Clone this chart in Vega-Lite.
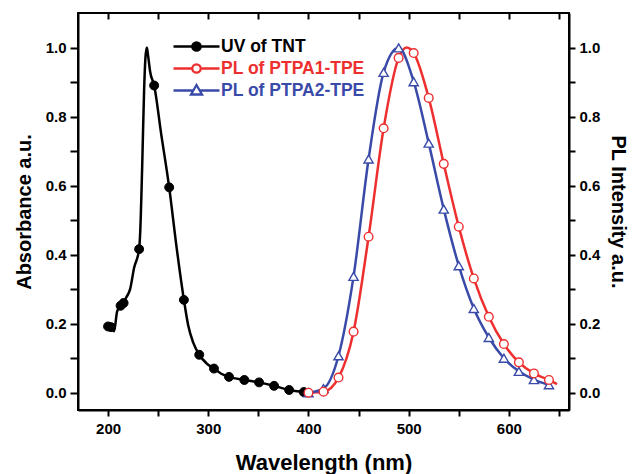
{
  "$schema": "https://vega.github.io/schema/vega-lite/v6.json",
  "autosize": "none",
  "width": 491,
  "height": 397,
  "padding": {"left": 78, "top": 13, "right": 66, "bottom": 64},
  "background": "white",
  "config": {
    "view": {"stroke": "black", "strokeWidth": 2},
    "axis": {
      "grid": false,
      "domainColor": "black",
      "domainWidth": 2,
      "tickColor": "black",
      "tickWidth": 2,
      "labelFont": "Liberation Sans",
      "labelFontWeight": "bold",
      "labelFontSize": 15,
      "labelColor": "black",
      "titleFont": "Liberation Sans",
      "titleFontWeight": "bold",
      "titleFontSize": 20,
      "titleColor": "black"
    }
  },
  "datasets": {
    "curves": [
      {"series": "UV of TNT", "wl": 200, "y": 0.192},
      {"series": "UV of TNT", "wl": 203, "y": 0.19},
      {"series": "UV of TNT", "wl": 206, "y": 0.178},
      {"series": "UV of TNT", "wl": 209, "y": 0.235},
      {"series": "UV of TNT", "wl": 212.5, "y": 0.252},
      {"series": "UV of TNT", "wl": 215.5, "y": 0.26},
      {"series": "UV of TNT", "wl": 218, "y": 0.275},
      {"series": "UV of TNT", "wl": 222, "y": 0.3},
      {"series": "UV of TNT", "wl": 226, "y": 0.362},
      {"series": "UV of TNT", "wl": 231, "y": 0.416},
      {"series": "UV of TNT", "wl": 232, "y": 0.46},
      {"series": "UV of TNT", "wl": 234, "y": 0.65},
      {"series": "UV of TNT", "wl": 236, "y": 0.88},
      {"series": "UV of TNT", "wl": 237.3, "y": 0.97},
      {"series": "UV of TNT", "wl": 238.7, "y": 1.0},
      {"series": "UV of TNT", "wl": 240, "y": 0.975},
      {"series": "UV of TNT", "wl": 242, "y": 0.93},
      {"series": "UV of TNT", "wl": 246, "y": 0.89},
      {"series": "UV of TNT", "wl": 253, "y": 0.75},
      {"series": "UV of TNT", "wl": 261, "y": 0.595},
      {"series": "UV of TNT", "wl": 268, "y": 0.43},
      {"series": "UV of TNT", "wl": 275.7, "y": 0.269},
      {"series": "UV of TNT", "wl": 280, "y": 0.195},
      {"series": "UV of TNT", "wl": 285, "y": 0.145},
      {"series": "UV of TNT", "wl": 291, "y": 0.11},
      {"series": "UV of TNT", "wl": 298, "y": 0.086},
      {"series": "UV of TNT", "wl": 305.7, "y": 0.07},
      {"series": "UV of TNT", "wl": 313, "y": 0.055},
      {"series": "UV of TNT", "wl": 320.7, "y": 0.046},
      {"series": "UV of TNT", "wl": 336, "y": 0.037},
      {"series": "UV of TNT", "wl": 350.7, "y": 0.03},
      {"series": "UV of TNT", "wl": 365.7, "y": 0.02},
      {"series": "UV of TNT", "wl": 380.7, "y": 0.008},
      {"series": "UV of TNT", "wl": 395.3, "y": 0.002},
      {"series": "PL of PTPA1-TPE", "wl": 400, "y": 0.0},
      {"series": "PL of PTPA1-TPE", "wl": 415, "y": 0.003},
      {"series": "PL of PTPA1-TPE", "wl": 430, "y": 0.044},
      {"series": "PL of PTPA1-TPE", "wl": 445, "y": 0.177},
      {"series": "PL of PTPA1-TPE", "wl": 460, "y": 0.452},
      {"series": "PL of PTPA1-TPE", "wl": 475, "y": 0.766},
      {"series": "PL of PTPA1-TPE", "wl": 490, "y": 0.97},
      {"series": "PL of PTPA1-TPE", "wl": 498, "y": 1.0},
      {"series": "PL of PTPA1-TPE", "wl": 505, "y": 0.984},
      {"series": "PL of PTPA1-TPE", "wl": 520, "y": 0.854},
      {"series": "PL of PTPA1-TPE", "wl": 535, "y": 0.663},
      {"series": "PL of PTPA1-TPE", "wl": 550, "y": 0.481},
      {"series": "PL of PTPA1-TPE", "wl": 565, "y": 0.331},
      {"series": "PL of PTPA1-TPE", "wl": 580, "y": 0.22},
      {"series": "PL of PTPA1-TPE", "wl": 595, "y": 0.141},
      {"series": "PL of PTPA1-TPE", "wl": 610, "y": 0.088},
      {"series": "PL of PTPA1-TPE", "wl": 625, "y": 0.056},
      {"series": "PL of PTPA1-TPE", "wl": 640, "y": 0.037},
      {"series": "PL of PTPA1-TPE", "wl": 648, "y": 0.025},
      {"series": "PL of PTPA2-TPE", "wl": 400, "y": 0.0},
      {"series": "PL of PTPA2-TPE", "wl": 415, "y": 0.012},
      {"series": "PL of PTPA2-TPE", "wl": 430, "y": 0.107},
      {"series": "PL of PTPA2-TPE", "wl": 445, "y": 0.337},
      {"series": "PL of PTPA2-TPE", "wl": 460, "y": 0.677},
      {"series": "PL of PTPA2-TPE", "wl": 475, "y": 0.928},
      {"series": "PL of PTPA2-TPE", "wl": 490, "y": 0.999},
      {"series": "PL of PTPA2-TPE", "wl": 505, "y": 0.901},
      {"series": "PL of PTPA2-TPE", "wl": 520, "y": 0.723},
      {"series": "PL of PTPA2-TPE", "wl": 535, "y": 0.532},
      {"series": "PL of PTPA2-TPE", "wl": 550, "y": 0.368},
      {"series": "PL of PTPA2-TPE", "wl": 565, "y": 0.244},
      {"series": "PL of PTPA2-TPE", "wl": 580, "y": 0.16},
      {"series": "PL of PTPA2-TPE", "wl": 595, "y": 0.1},
      {"series": "PL of PTPA2-TPE", "wl": 610, "y": 0.062},
      {"series": "PL of PTPA2-TPE", "wl": 625, "y": 0.038},
      {"series": "PL of PTPA2-TPE", "wl": 640, "y": 0.023}
    ],
    "markers": [
      {"series": "UV of TNT", "wl": 200, "y": 0.192},
      {"series": "UV of TNT", "wl": 203, "y": 0.19},
      {"series": "UV of TNT", "wl": 212.5, "y": 0.252},
      {"series": "UV of TNT", "wl": 215.5, "y": 0.26},
      {"series": "UV of TNT", "wl": 231, "y": 0.416},
      {"series": "UV of TNT", "wl": 246, "y": 0.89},
      {"series": "UV of TNT", "wl": 261, "y": 0.595},
      {"series": "UV of TNT", "wl": 275.7, "y": 0.269},
      {"series": "UV of TNT", "wl": 291, "y": 0.11},
      {"series": "UV of TNT", "wl": 305.7, "y": 0.07},
      {"series": "UV of TNT", "wl": 320.7, "y": 0.046},
      {"series": "UV of TNT", "wl": 336, "y": 0.037},
      {"series": "UV of TNT", "wl": 350.7, "y": 0.03},
      {"series": "UV of TNT", "wl": 365.7, "y": 0.02},
      {"series": "UV of TNT", "wl": 380.7, "y": 0.008},
      {"series": "UV of TNT", "wl": 395.3, "y": 0.002},
      {"series": "PL of PTPA2-TPE", "wl": 400, "y": 0.0},
      {"series": "PL of PTPA2-TPE", "wl": 415, "y": 0.012},
      {"series": "PL of PTPA2-TPE", "wl": 430, "y": 0.107},
      {"series": "PL of PTPA2-TPE", "wl": 445, "y": 0.337},
      {"series": "PL of PTPA2-TPE", "wl": 460, "y": 0.677},
      {"series": "PL of PTPA2-TPE", "wl": 475, "y": 0.928},
      {"series": "PL of PTPA2-TPE", "wl": 490, "y": 0.999},
      {"series": "PL of PTPA2-TPE", "wl": 505, "y": 0.901},
      {"series": "PL of PTPA2-TPE", "wl": 520, "y": 0.723},
      {"series": "PL of PTPA2-TPE", "wl": 535, "y": 0.532},
      {"series": "PL of PTPA2-TPE", "wl": 550, "y": 0.368},
      {"series": "PL of PTPA2-TPE", "wl": 565, "y": 0.244},
      {"series": "PL of PTPA2-TPE", "wl": 580, "y": 0.16},
      {"series": "PL of PTPA2-TPE", "wl": 595, "y": 0.1},
      {"series": "PL of PTPA2-TPE", "wl": 610, "y": 0.062},
      {"series": "PL of PTPA2-TPE", "wl": 625, "y": 0.038},
      {"series": "PL of PTPA2-TPE", "wl": 640, "y": 0.023},
      {"series": "PL of PTPA1-TPE", "wl": 400, "y": 0.0},
      {"series": "PL of PTPA1-TPE", "wl": 415, "y": 0.003},
      {"series": "PL of PTPA1-TPE", "wl": 430, "y": 0.044},
      {"series": "PL of PTPA1-TPE", "wl": 445, "y": 0.177},
      {"series": "PL of PTPA1-TPE", "wl": 460, "y": 0.452},
      {"series": "PL of PTPA1-TPE", "wl": 475, "y": 0.766},
      {"series": "PL of PTPA1-TPE", "wl": 490, "y": 0.97},
      {"series": "PL of PTPA1-TPE", "wl": 505, "y": 0.984},
      {"series": "PL of PTPA1-TPE", "wl": 520, "y": 0.854},
      {"series": "PL of PTPA1-TPE", "wl": 535, "y": 0.663},
      {"series": "PL of PTPA1-TPE", "wl": 550, "y": 0.481},
      {"series": "PL of PTPA1-TPE", "wl": 565, "y": 0.331},
      {"series": "PL of PTPA1-TPE", "wl": 580, "y": 0.22},
      {"series": "PL of PTPA1-TPE", "wl": 595, "y": 0.141},
      {"series": "PL of PTPA1-TPE", "wl": 610, "y": 0.088},
      {"series": "PL of PTPA1-TPE", "wl": 625, "y": 0.056},
      {"series": "PL of PTPA1-TPE", "wl": 640, "y": 0.037}
    ]
  },
  "resolve": {"scale": {"x": "independent", "y": "independent"}},
  "layer": [
    {
      "data": {"name": "curves"},
      "mark": {"type": "line", "interpolate": "monotone", "strokeWidth": 2.5},
      "encoding": {
        "x": {
          "field": "wl", "type": "quantitative",
          "scale": {"domain": [170, 660], "nice": false, "zero": false},
          "axis": {
            "orient": "bottom",
            "title": "Wavelength (nm)",
            "titleFontSize": 22,
            "values": [200, 250, 300, 350, 400, 450, 500, 550, 600, 650],
            "labelExpr": "datum.value % 100 == 0 ? datum.label : ''",
            "tickSize": 6,
            "labelPadding": 5,
            "titlePadding": 16
          }
        },
        "y": {
          "field": "y", "type": "quantitative",
          "scale": {"domain": [-0.05, 1.1], "nice": false, "zero": false},
          "axis": {
            "orient": "left",
            "title": "Absorbance a.u.",
            "values": [0, 0.1, 0.2, 0.3, 0.4, 0.5, 0.6, 0.7, 0.8, 0.9, 1.0],
            "labelExpr": "round(datum.value * 10) % 2 == 0 ? format(datum.value, '.1f') : ''",
            "tickSize": 8,
            "labelPadding": 4,
            "titlePadding": 11
          }
        },
        "color": {
          "field": "series", "type": "nominal",
          "scale": {
            "domain": ["UV of TNT", "PL of PTPA1-TPE", "PL of PTPA2-TPE"],
            "range": ["#000000", "#ee2f2f", "#3a4aa8"]
          },
          "legend": {
            "orient": "none",
            "legendX": 107,
            "legendY": 22,
            "title": null,
            "padding": 0,
            "rowPadding": 1,
            "labelFont": "Liberation Sans",
            "labelFontWeight": "bold",
            "labelFontSize": 17.5,
            "labelOffset": 13,
            "symbolSize": 400,
            "symbolStrokeWidth": 2.3,
            "encode": {
              "symbols": {
                "update": {
                  "shape": {"signal": "datum.value === 'UV of TNT' ? 'M-2.3,0H2.3M0.42,0A0.42,0.42 0 1,1 -0.42,0A0.42,0.42 0 1,1 0.42,0Z' : datum.value === 'PL of PTPA1-TPE' ? 'M-2.3,0H-0.42M0.42,0H2.3M0.42,0A0.42,0.42 0 1,1 -0.42,0A0.42,0.42 0 1,1 0.42,0Z' : 'M-2.3,0H-0.32M0.32,0H2.3M0,-0.55L0.55,0.4L-0.55,0.4Z'"},
                  "fill": {"signal": "datum.value === 'UV of TNT' ? 'black' : 'white'"},
                  "stroke": {"scale": "color", "field": "value"},
                  "strokeWidth": {"value": 2.3},
                  "size": {"value": 400},
                  "opacity": {"value": 1}
                }
              },
              "labels": {
                "update": {
                  "fill": {"scale": "color", "field": "value"}
                }
              }
            }
          }
        }
      }
    },
    {
      "data": {"name": "markers"},
      "transform": [{"filter": "datum.series === 'UV of TNT'"}],
      "mark": {"type": "point", "shape": "circle", "filled": true, "fill": "#000000", "stroke": "#000000", "strokeWidth": 1, "opacity": 1, "size": 80},
      "encoding": {
        "x": {"field": "wl", "type": "quantitative", "scale": {"domain": [170, 660], "nice": false, "zero": false}, "axis": null},
        "y": {"field": "y", "type": "quantitative", "scale": {"domain": [-0.05, 1.1], "nice": false, "zero": false}, "axis": null}
      }
    },
    {
      "data": {"name": "markers"},
      "transform": [{"filter": "datum.series === 'PL of PTPA2-TPE'"}],
      "mark": {"type": "point", "shape": "triangle-up", "fill": "#ffffff", "filled": false, "stroke": "#3a4aa8", "strokeWidth": 1.4, "opacity": 1, "size": 85},
      "encoding": {
        "x": {"field": "wl", "type": "quantitative", "scale": {"domain": [170, 660], "nice": false, "zero": false}, "axis": null},
        "y": {"field": "y", "type": "quantitative", "scale": {"domain": [-0.05, 1.1], "nice": false, "zero": false}, "axis": null}
      }
    },
    {
      "data": {"name": "markers"},
      "transform": [{"filter": "datum.series === 'PL of PTPA1-TPE'"}],
      "mark": {"type": "point", "shape": "circle", "fill": "#ffffff", "filled": false, "stroke": "#ee2f2f", "strokeWidth": 1.4, "opacity": 1, "size": 75},
      "encoding": {
        "x": {
          "field": "wl", "type": "quantitative",
          "scale": {"domain": [170, 660], "nice": false, "zero": false},
          "axis": {
            "orient": "top",
            "title": null,
            "values": [200, 250, 300, 350, 400, 450, 500, 550, 600, 650],
            "labels": false,
            "tickSize": -6,
            "domain": false
          }
        },
        "y": {
          "field": "y", "type": "quantitative",
          "scale": {"domain": [-0.05, 1.1], "nice": false, "zero": false},
          "axis": {
            "orient": "right",
            "title": "PL Intensity a.u.",
            "values": [0, 0.1, 0.2, 0.3, 0.4, 0.5, 0.6, 0.7, 0.8, 0.9, 1.0],
            "labelExpr": "round(datum.value * 10) % 2 == 0 ? format(datum.value, '.1f') : ''",
            "tickSize": 6,
            "labelPadding": 4,
            "titlePadding": 8
          }
        }
      }
    }
  ]
}
